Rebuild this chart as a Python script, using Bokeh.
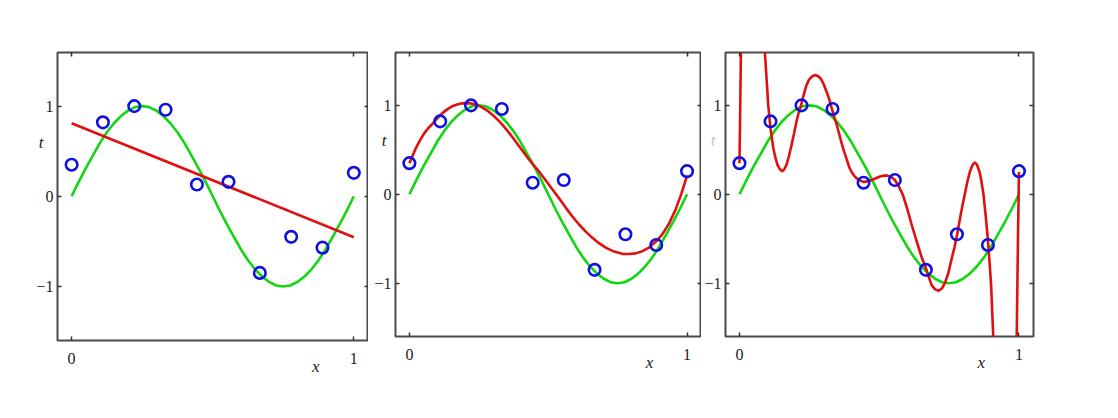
from bokeh.plotting import figure
from bokeh.models import Range1d, FixedTicker, LinearAxis
from bokeh.layouts import row
from bokeh.embed import file_html
from bokeh.resources import INLINE

# observed data points
x_data = [0.0, 0.111, 0.222, 0.333, 0.444, 0.556, 0.667, 0.778, 0.889, 1.0]
t_data = [0.35, 0.82, 1.0, 0.96, 0.13, 0.16, -0.85, -0.45, -0.57, 0.26]

# green curve
green_x = [0.0, 0.025, 0.05, 0.075, 0.1, 0.125, 0.15, 0.175, 0.2, 0.225, 0.25,
           0.275, 0.3, 0.325, 0.35, 0.375, 0.4, 0.425, 0.45, 0.475, 0.5,
           0.525, 0.55, 0.575, 0.6, 0.625, 0.65, 0.675, 0.7, 0.725, 0.75,
           0.775, 0.8, 0.825, 0.85, 0.875, 0.9, 0.925, 0.95, 0.975, 1.0]
green_y = [0.0, 0.16, 0.31, 0.45, 0.59, 0.71, 0.81, 0.89, 0.95, 0.99, 1.0,
           0.99, 0.95, 0.89, 0.81, 0.71, 0.59, 0.45, 0.31, 0.16, 0.0,
           -0.16, -0.31, -0.45, -0.59, -0.71, -0.81, -0.89, -0.95, -0.99, -1.0,
           -0.99, -0.95, -0.89, -0.81, -0.71, -0.59, -0.45, -0.31, -0.16, 0.0]

# red fitted curves
red1_x = [0.0, 1.0]
red1_y = [0.81, -0.455]

red3_x = [0.0, 0.011, 0.022, 0.037, 0.052, 0.067, 0.082, 0.1, 0.118, 0.136, 0.154,
          0.172, 0.19, 0.205, 0.22, 0.235, 0.25, 0.268, 0.286, 0.304, 0.322,
          0.34, 0.358, 0.376, 0.394, 0.412, 0.43, 0.448, 0.466, 0.49, 0.514,
          0.539, 0.563, 0.587, 0.611, 0.635, 0.659, 0.683, 0.707, 0.737, 0.767,
          0.791, 0.815, 0.839, 0.863, 0.887, 0.911, 0.935, 0.959, 0.98, 1.0]
red3_y = [0.35, 0.43, 0.51, 0.60, 0.68, 0.74, 0.79, 0.855, 0.91, 0.955, 0.99,
          1.01, 1.023, 1.026, 1.023, 1.012, 0.997, 0.967, 0.929, 0.88, 0.827,
          0.763, 0.696, 0.622, 0.546, 0.47, 0.395, 0.325, 0.26, 0.16, 0.06,
          -0.045, -0.15, -0.25, -0.34, -0.42, -0.49, -0.55, -0.60, -0.645, -0.67,
          -0.672, -0.665, -0.64, -0.60, -0.535, -0.45, -0.33, -0.17, 0.01, 0.21]

red9_x = [0.0, 0.002, 0.004, 0.006, 0.01, 0.08, 0.088, 0.091, 0.097, 0.103, 0.111,
          0.121, 0.128, 0.136, 0.145, 0.153, 0.16, 0.168, 0.177, 0.186, 0.195,
          0.204, 0.212, 0.220, 0.230, 0.240, 0.249, 0.258, 0.265, 0.272, 0.281,
          0.291, 0.301, 0.312, 0.321, 0.330, 0.339, 0.348, 0.357, 0.366, 0.375,
          0.384, 0.392, 0.401, 0.410, 0.419, 0.431, 0.443, 0.458, 0.473, 0.488,
          0.503, 0.517, 0.530, 0.543, 0.556, 0.570, 0.585, 0.600, 0.615, 0.633,
          0.651, 0.669, 0.687, 0.700, 0.713, 0.724, 0.735, 0.747, 0.758, 0.769,
          0.779, 0.792, 0.806, 0.816, 0.825, 0.834, 0.842, 0.850, 0.859, 0.866,
          0.873, 0.882, 0.890, 0.900, 0.908, 0.915, 0.985, 0.992, 0.996, 1.0]
red9_y = [0.35, 0.8, 1.3, 1.8, 2.5, 2.5, 1.85, 1.59, 1.30, 1.0, 0.74,
          0.52, 0.42, 0.33, 0.28, 0.26, 0.28, 0.33, 0.43, 0.55, 0.68,
          0.82, 0.92, 1.0, 1.12, 1.23, 1.29, 1.32, 1.335, 1.34, 1.33,
          1.30, 1.24, 1.15, 1.07, 0.97, 0.875, 0.78, 0.675, 0.57, 0.475,
          0.39, 0.31, 0.25, 0.21, 0.18, 0.155, 0.14, 0.145, 0.16, 0.18,
          0.20, 0.21, 0.21, 0.195, 0.16, 0.09, -0.01, -0.16, -0.33, -0.52,
          -0.70, -0.85, -1.02, -1.07, -1.085, -1.06, -1.0, -0.89, -0.74, -0.60,
          -0.45, -0.22, 0.0, 0.15, 0.26, 0.33, 0.36, 0.33, 0.25, 0.14,
          0.0, -0.27, -0.56, -1.0, -1.6, -2.5, -2.5, -1.6, -0.6, 0.25]

x_ticks = [0, 1]
y_ticks = [-1, 0, 1]
y_tick_labels = {-1: "\u22121", 0: "0", 1: "1"}
x_label_pos = [0.865]
t_label_pos = [0.6]

SERIF = "Liberation Serif"
FRAME = "#4a4a4a"
INK = "#222222"
GREEN = "#12d612"
RED = "#e01010"
BLUE = "#1010e0"


def style_axis(ax):
    ax.axis_line_color = None
    ax.major_tick_in = 4
    ax.major_tick_out = 0
    ax.major_tick_line_color = "#333333"
    ax.major_tick_line_width = 1.5
    ax.minor_tick_line_color = None
    ax.major_label_text_font = SERIF
    ax.major_label_text_font_size = "16px"
    ax.major_label_text_color = INK


def blank_axis(ticks):
    return LinearAxis(ticker=FixedTicker(ticks=ticks), axis_line_color=None,
                      major_tick_in=4, major_tick_out=0, minor_tick_line_color=None,
                      major_tick_line_color="#333333", major_tick_line_width=1.5,
                      major_label_text_color=None, major_label_standoff=0,
                      major_label_text_font_size="1px")


def label_axis(ticks, text, standoff, color):
    return LinearAxis(ticker=FixedTicker(ticks=ticks), axis_line_color=None,
                      major_tick_in=0, major_tick_out=0, minor_tick_line_color=None,
                      major_tick_line_color=None,
                      major_label_overrides={ticks[0]: text},
                      major_label_text_font=SERIF, major_label_text_font_style="italic",
                      major_label_text_font_size="17px", major_label_text_color=color,
                      major_label_standoff=standoff)


def panel(fw, fh, left, right, red_x, red_y, t_color, t_standoff):
    p = figure(frame_width=fw, frame_height=fh,
               x_range=Range1d(-0.05, 1.052), y_range=Range1d(-1.6, 1.595),
               output_backend="svg", toolbar_location=None,
               min_border_left=left, min_border_right=right,
               min_border_top=52, min_border_bottom=45,
               background_fill_color="white", border_fill_color="white",
               outline_line_color=FRAME, outline_line_width=2)
    p.grid.visible = False
    for ax in p.xaxis:
        ax.ticker = FixedTicker(ticks=x_ticks)
        ax.major_label_standoff = 12
        style_axis(ax)
    for ax in p.yaxis:
        ax.ticker = FixedTicker(ticks=y_ticks)
        ax.major_label_overrides = y_tick_labels
        ax.major_label_standoff = 4
        style_axis(ax)
    p.add_layout(blank_axis(y_ticks), "right")
    p.add_layout(blank_axis(x_ticks), "above")
    p.add_layout(label_axis(x_label_pos, "x", -10, INK), "below")
    p.add_layout(label_axis(t_label_pos, "t", t_standoff, t_color), "left")

    p.line(green_x, green_y, line_color=GREEN, line_width=2.6)
    p.line(red_x, red_y, line_color=RED, line_width=2.6)
    p.scatter(x_data, t_data, marker="circle", size=11.5, fill_color=None,
              line_color=BLUE, line_width=2.6)
    return p


p1 = panel(311, 288, 57, 0, red1_x, red1_y, INK, -10)
p2 = panel(306, 284, 27, 0, red3_x, red3_y, INK, -15)
p3 = panel(308, 284, 22, 10, red9_x, red9_y, "#c4c4c4", -14)

layout = row(p1, p2, p3)
open("out.html", "w").write(file_html(layout, INLINE))
